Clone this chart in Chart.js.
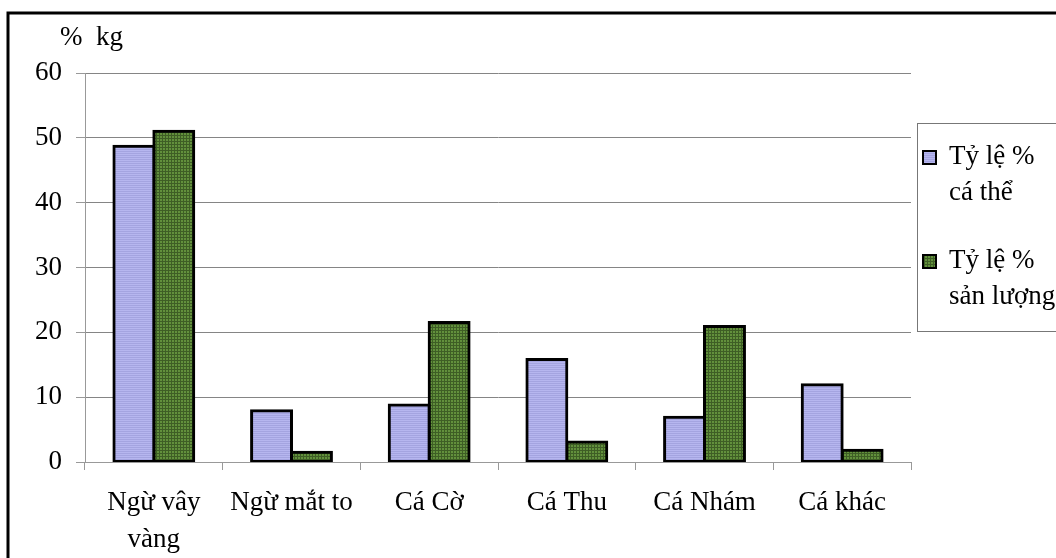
<!DOCTYPE html>
<html>
<head>
<meta charset="utf-8">
<script src="https://cdn.jsdelivr.net/npm/chart.js@4.4.1/dist/chart.umd.min.js"></script>
<style>
  html, body { margin: 0; padding: 0; background: #ffffff; }
  #wrap { width: 1056px; height: 558px; position: relative; }
</style>
</head>
<body>
<div id="wrap"><canvas id="c" width="1056" height="558"></canvas></div>
<script>
// Fish species (category axis, two-line labels where needed)
const categories = [['Ngừ vây', 'vàng'], 'Ngừ mắt to', 'Cá Cờ', 'Cá Thu', 'Cá Nhám', 'Cá khác'];
// Share of individuals (%)
const individualShare = [48.7, 7.9, 8.8, 15.8, 6.9, 11.9];
// Share of catch weight (%)
const yieldShare = [51.0, 1.5, 21.5, 3.1, 20.9, 1.8];
// Series names as shown in the legend
const seriesNames = [['Tỷ lệ %', 'cá thể'], ['Tỷ lệ %', 'sản lượng']];
// Value axis
const yTicks = { min: 0, max: 60, step: 10 };
const unitLabel = '%  kg';

const SERIF = "'Liberation Serif', 'Times New Roman', serif";

// Small tiled fills giving the hatched look of the bars
function makePattern(size, painter) {
  const c = document.createElement('canvas');
  c.width = size; c.height = size;
  const g = c.getContext('2d');
  painter(g, size);
  return g.createPattern(c, 'repeat');
}
const ctx = document.getElementById('c').getContext('2d');
const bluePattern = makePattern(2, (g) => {
  g.fillStyle = '#b6b6ef'; g.fillRect(0, 0, 2, 2);
  g.fillStyle = '#a4a4e0'; g.fillRect(0, 1, 2, 1);
});
const greenPattern = makePattern(3, (g) => {
  g.fillStyle = '#62903c'; g.fillRect(0, 0, 3, 3);
  g.fillStyle = '#3e5e25'; g.fillRect(0, 0, 1, 3); g.fillRect(0, 0, 3, 1);
});

// Outer frame, unit caption and the boxed legend
const decorations = {
  id: 'decorations',
  afterDraw(chart) {
    const g = chart.ctx;
    g.save();
    g.strokeStyle = '#000';
    g.lineWidth = 3;
    g.strokeRect(8, 13, 1200, 1200);

    g.fillStyle = '#000';
    g.font = '27px ' + SERIF;
    g.textAlign = 'left';
    g.textBaseline = 'alphabetic';
    g.fillText(unitLabel, 60, 45);

    // legend box
    g.strokeStyle = '#777';
    g.lineWidth = 1;
    g.strokeRect(917.5, 123.5, 300, 208);
    const fills = [bluePattern, greenPattern];
    const itemTops = [157, 261];
    seriesNames.forEach((lines, i) => {
      const cy = itemTops[i];
      g.fillStyle = fills[i];
      g.fillRect(923, cy - 6, 13, 13);
      g.strokeStyle = '#000';
      g.lineWidth = 2;
      g.strokeRect(923, cy - 6, 13, 13);
      g.fillStyle = '#000';
      g.font = '27px ' + SERIF;
      g.textBaseline = 'middle';
      lines.forEach((t, k) => g.fillText(t, 949, cy + k * 36));
    });
    g.restore();
  }
};

const barStyle = {
  borderColor: '#000',
  borderWidth: 3,
  borderSkipped: false,
  inflateAmount: 1.5,
  categoryPercentage: 0.58,
  barPercentage: 1.0
};

new Chart(ctx, {
  type: 'bar',
  data: {
    labels: categories,
    datasets: [
      Object.assign({ label: seriesNames[0].join(' '), data: individualShare, backgroundColor: bluePattern }, barStyle),
      Object.assign({ label: seriesNames[1].join(' '), data: yieldShare, backgroundColor: greenPattern }, barStyle)
    ]
  },
  options: {
    responsive: false,
    animation: false,
    devicePixelRatio: 1,
    layout: { padding: { left: 0, top: 73, right: 145, bottom: 0 } },
    plugins: {
      legend: { display: false },
      tooltip: { enabled: false }
    },
    scales: {
      x: {
        afterFit(scale) { scale.height = 96; },
        border: { display: true, color: '#999', width: 1 },
        grid: {
          offset: true,
          drawOnChartArea: false,
          drawTicks: true,
          tickLength: 8,
          tickColor: '#999'
        },
        ticks: {
          color: '#000',
          padding: 14,
          maxRotation: 0,
          autoSkip: false,
          font: { family: SERIF, size: 27, lineHeight: 1.37 }
        }
      },
      y: {
        min: yTicks.min,
        max: yTicks.max,
        afterFit(scale) { scale.width = 85; },
        border: { display: true, color: '#999', width: 1 },
        grid: {
          color: '#858585',
          lineWidth: 1,
          drawTicks: true,
          tickLength: 9,
          tickColor: '#999'
        },
        ticks: {
          stepSize: yTicks.step,
          color: '#000',
          padding: 14,
          font: { family: SERIF, size: 27 }
        }
      }
    }
  },
  plugins: [decorations]
});
</script>
</body>
</html>
